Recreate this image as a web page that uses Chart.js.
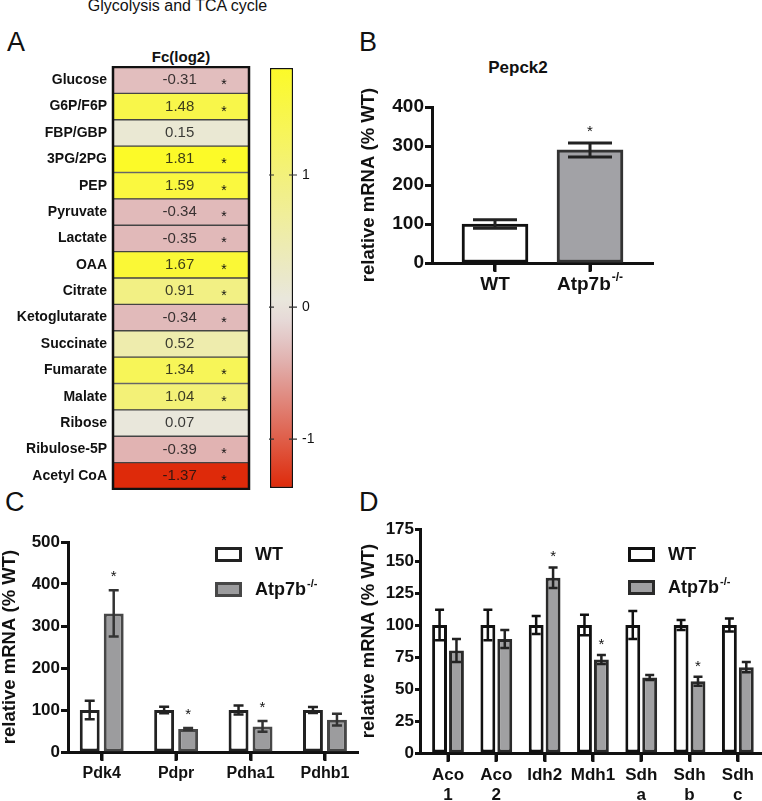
<!DOCTYPE html>
<html>
<head>
<meta charset="utf-8">
<script src="https://cdn.jsdelivr.net/npm/chart.js@4.4.0/dist/chart.umd.min.js"></script>
<style>
  body { margin: 0; background: #fff; width: 762px; height: 801px; position: relative; overflow: hidden;
         font-family: "Liberation Sans", Arial, Helvetica, sans-serif; color: #111; }
  canvas, .txt { position: absolute; }
  .letter { font-size: 27px; line-height: 1; }
</style>
</head>
<body>
<div class="txt" style="left:0;width:355px;top:-2px;text-align:center;font-size:16px;line-height:1;">Glycolysis and TCA cycle</div>
<div class="txt letter" style="left:7px;top:29px;">A</div>
<div class="txt letter" style="left:359px;top:29px;">B</div>
<div class="txt letter" style="left:5px;top:489px;">C</div>
<div class="txt letter" style="left:359px;top:489px;">D</div>
<div class="txt" style="left:113px;width:136px;top:49px;text-align:center;font-size:15px;font-weight:bold;line-height:1;">Fc(log2)</div>
<div class="txt" style="left:458px;width:120px;top:59px;text-align:center;font-size:17px;font-weight:bold;line-height:1;">Pepck2</div>

<canvas id="heat" width="251" height="424" style="left:0;top:66px"></canvas>
<canvas id="scaleBar" width="60" height="436" style="left:262px;top:60px"></canvas>
<canvas id="pepck" width="300" height="240" style="left:356px;top:55px"></canvas>
<canvas id="pdh" width="366" height="258" style="left:-3px;top:530px"></canvas>
<canvas id="tca" width="406" height="284" style="left:356px;top:517px"></canvas>

<script>
// ---- data ----
const metabolites = ["Glucose", "G6P/F6P", "FBP/GBP", "3PG/2PG", "PEP", "Pyruvate", "Lactate", "OAA",
  "Citrate", "Ketoglutarate", "Succinate", "Fumarate", "Malate", "Ribose", "Ribulose-5P", "Acetyl CoA"];
const fcLog2 = [-0.31, 1.48, 0.15, 1.81, 1.59, -0.34, -0.35, 1.67, 0.91, -0.34, 0.52, 1.34, 1.04, 0.07, -0.39, -1.37];
const fcSignificant = [true, true, false, true, true, true, true, true, true, true, false, true, true, false, true, true];
const colorbarTicks = [-1, 0, 1];

const pepckGroups = ["WT", "Atp7b-/-"];
const pepckMean = [100, 290];
const pepckSem = [11, 18];
const pepckSig = [false, true];

const groupNames = ["WT", "Atp7b-/-"];

const pdhGenes = ["Pdk4", "Pdpr", "Pdha1", "Pdhb1"];
const pdhWT = [100, 100, 100, 100];
const pdhWTErr = [22, 8, 11, 7];
const pdhKO = [330, 55, 61, 77];
const pdhKOErr = [55, 2, 13, 14];
const pdhSig = [true, true, true, false];

const tcaGenes = [["Aco", "1"], ["Aco", "2"], ["Idh2"], ["Mdh1"], ["Sdh", "a"], ["Sdh", "b"], ["Sdh", "c"]];
const tcaWT = [100, 100, 100, 100, 100, 100, 100];
const tcaWTErr = [12, 12, 7, 8, 11, 4, 5];
const tcaKO = [80, 89, 137, 73, 59, 56, 67];
const tcaKOErr = [9, 7, 8, 3.5, 2, 3.5, 4];
const tcaSig = [false, false, true, true, false, true, false];

// ---- styles ----
const FONT = '"Liberation Sans", Arial, Helvetica, sans-serif';
Chart.defaults.font.family = FONT;
Chart.defaults.color = "#111";
Chart.defaults.animation = false;
Chart.defaults.plugins.legend.display = false;
Chart.defaults.plugins.tooltip.enabled = false;

// colour ramp: [position, r, g, b], grey in the middle
const negRamp = [[0, 232, 230, 226], [0.25, 225, 186, 186], [1, 222, 42, 10]];
const posRamp = [[0, 232, 230, 226], [1, 252, 250, 40]];
const fcMin = Math.min(...fcLog2);
const fcMax = Math.max(...fcLog2);

function fcColor(v) {
  const ramp = v < 0 ? negRamp : posRamp;
  const t = v < 0 ? v / fcMin : v / fcMax;
  let k = 1;
  while (k < ramp.length - 1 && t > ramp[k][0]) k++;
  const a = ramp[k - 1], b = ramp[k];
  const f = (t - a[0]) / (b[0] - a[0]);
  const rgb = [1, 2, 3].map((j) => Math.round(a[j] + (b[j] - a[j]) * f));
  return "rgb(" + rgb.join(",") + ")";
}

function noPad(s) { s.paddingTop = 0; s.paddingBottom = 0; }

// label with "-/-" drawn as superscript
function drawSupLabel(ctx, text, x, y, size, align) {
  const m = text.match(/^(.*?)(-\/-)$/);
  const main = m ? m[1] : text;
  const sup = m ? m[2] : "";
  const supSize = Math.round(size * 0.62);
  ctx.font = "bold " + size + "px " + FONT;
  const w1 = ctx.measureText(main).width;
  ctx.font = "bold " + supSize + "px " + FONT;
  const w2 = sup ? ctx.measureText(sup).width + 1 : 0;
  const x0 = align === "center" ? x - (w1 + w2) / 2 : x;
  ctx.textAlign = "left";
  ctx.textBaseline = "middle";
  ctx.fillStyle = "#111";
  ctx.font = "bold " + size + "px " + FONT;
  ctx.fillText(main, x0, y);
  if (sup) {
    ctx.font = "bold " + supSize + "px " + FONT;
    ctx.fillText(sup, x0 + w1 + 1, y - size * 0.36);
  }
}

// error bars + significance stars
const errorBars = {
  id: "errorBars",
  afterDatasetsDraw(chart, args, opts) {
    const { ctx } = chart;
    const yScale = chart.scales.y;
    ctx.save();
    chart.data.datasets.forEach((ds, di) => {
      if (!ds.errors) return;
      const meta = chart.getDatasetMeta(di);
      meta.data.forEach((bar, i) => {
        const raw = ds.data[i];
        const v = typeof raw === "object" ? raw.y : raw;
        const top = yScale.getPixelForValue(v + ds.errors[i]);
        const bot = yScale.getPixelForValue(v - ds.errors[i]);
        ctx.strokeStyle = ds.errorColor;
        ctx.lineWidth = opts.width;
        ctx.beginPath();
        ctx.moveTo(bar.x, top);
        ctx.lineTo(bar.x, bot);
        ctx.moveTo(bar.x - opts.cap, top);
        ctx.lineTo(bar.x + opts.cap, top);
        ctx.moveTo(bar.x - opts.cap, bot);
        ctx.lineTo(bar.x + opts.cap, bot);
        ctx.stroke();
        if (ds.sig && ds.sig[i]) {
          ctx.fillStyle = "#111";
          ctx.font = opts.starSize + "px " + FONT;
          ctx.textAlign = "center";
          ctx.textBaseline = "alphabetic";
          ctx.fillText("*", bar.x, top - opts.starGap);
        }
      });
    });
    ctx.restore();
  }
};

// tick marks under the categories
const xTickMarks = {
  id: "xTickMarks",
  afterDraw(chart) {
    const { ctx, chartArea, scales } = chart;
    ctx.save();
    ctx.strokeStyle = "#111";
    ctx.lineWidth = 3;
    scales.x.ticks.forEach((t) => {
      const x = Math.round(scales.x.getPixelForValue(t.value));
      ctx.beginPath();
      ctx.moveTo(x, chartArea.bottom);
      ctx.lineTo(x, chartArea.bottom + 9);
      ctx.stroke();
    });
    ctx.restore();
  }
};

// legend boxes
const boxLegend = {
  id: "boxLegend",
  afterDraw(chart, args, opts) {
    const { ctx, chartArea } = chart;
    ctx.save();
    chart.data.datasets.forEach((ds, i) => {
      const x = chartArea.left + opts.x;
      const y = chartArea.top + opts.y + i * opts.gap;
      ctx.fillStyle = ds.backgroundColor;
      ctx.strokeStyle = ds.borderColor;
      ctx.lineWidth = 3;
      ctx.fillRect(x, y, 27, 15);
      ctx.strokeRect(x + 1.5, y + 1.5, 24, 12);
      drawSupLabel(ctx, ds.label, x + 40, y + 8, 18, "left");
    });
    ctx.restore();
  }
};

function valueAxis(max, step, width, tickLen, size) {
  return {
    min: 0, max,
    ticks: { stepSize: step, font: { size, weight: "bold" }, color: "#111", padding: 1 },
    grid: { drawOnChartArea: false, drawTicks: true, tickLength: tickLen, tickWidth: 3, tickColor: "#111", color: "#111" },
    border: { display: true, width: 3, color: "#111" },
    title: { display: true, text: "relative mRNA (% WT)", font: { size: 18.5, weight: "bold" }, color: "#111", padding: { top: 2, bottom: 0 } },
    afterFit: (s) => { s.width = width; noPad(s); }
  };
}

function indexAxis(n, min, max, height, labels, size, showLabels) {
  return {
    type: "linear", min, max, offset: false,
    afterBuildTicks: (s) => { s.ticks = Array.from({ length: n }, (_, i) => ({ value: i + 1 })); },
    ticks: { display: showLabels, autoSkip: false, maxRotation: 0, font: { size, weight: "bold" }, color: "#111", padding: 4,
             callback: (v) => labels[v - 1] },
    grid: { offset: false, drawOnChartArea: false, drawTicks: true, tickLength: 8, tickWidth: 3, tickColor: "#111", color: "#111" },
    border: { display: true, width: 3, color: "#111" },
    afterFit: (s) => { s.height = height; }
  };
}

// ---- A: heat map ----
const heatText = {
  id: "heatText",
  afterDatasetsDraw(chart) {
    const { ctx, chartArea: a } = chart;
    const meta = chart.getDatasetMeta(0);
    ctx.save();
    ctx.textAlign = "center";
    meta.data.forEach((cell, i) => {
      ctx.fillStyle = "rgba(17,17,17,0.82)";
      ctx.font = "15px " + FONT;
      ctx.textBaseline = "middle";
      ctx.fillText(fcLog2[i].toFixed(2), a.left + a.width * 0.49, cell.y);
      if (fcSignificant[i]) {
        ctx.fillStyle = "#111";
        ctx.font = "14px " + FONT;
        ctx.textBaseline = "alphabetic";
        ctx.fillText("*", a.left + a.width * 0.816, cell.y + 9);
      }
    });
    ctx.lineWidth = 2.5;
    ctx.strokeStyle = "#111";
    ctx.strokeRect(a.left, a.top, a.width, a.height);
    ctx.restore();
  }
};

new Chart(document.getElementById("heat"), {
  type: "bar",
  data: {
    labels: metabolites,
    datasets: [{
      data: metabolites.map(() => 1),
      backgroundColor: fcLog2.map(fcColor),
      borderColor: "#444",
      borderWidth: 1,
      borderSkipped: false,
      barPercentage: 1,
      categoryPercentage: 1
    }]
  },
  options: {
    responsive: false,
    indexAxis: "y",
    layout: { padding: { top: 1, right: 2, bottom: 1 } },
    scales: {
      x: { display: false, min: 0, max: 1 },
      y: {
        grid: { display: false, drawTicks: false },
        border: { display: false },
        ticks: { font: { size: 14, weight: "bold" }, color: "#111", padding: 6 },
        afterFit: (s) => { s.width = 113; noPad(s); }
      }
    }
  },
  plugins: [heatText]
});

// ---- A: colour bar ----
const barTicks = {
  id: "barTicks",
  afterDraw(chart) {
    const { ctx, chartArea: a, scales } = chart;
    ctx.save();
    ctx.strokeStyle = "#333";
    ctx.lineWidth = 1.2;
    colorbarTicks.forEach((v) => {
      const y = scales.y.getPixelForValue(v);
      ctx.beginPath();
      ctx.moveTo(a.left - 1, y); ctx.lineTo(a.left + 4, y);
      ctx.moveTo(a.right - 4, y); ctx.lineTo(a.right + 4, y);
      ctx.stroke();
    });
    ctx.restore();
  }
};

new Chart(document.getElementById("scaleBar"), {
  type: "bar",
  data: {
    labels: [""],
    datasets: [{
      data: [[fcMin, fcMax]],
      backgroundColor: (c) => {
        const { chart } = c;
        if (!chart.chartArea) return fcColor(0);
        const y = chart.scales.y;
        const g = chart.ctx.createLinearGradient(0, y.getPixelForValue(fcMin), 0, y.getPixelForValue(fcMax));
        for (let i = 0; i <= 20; i++) g.addColorStop(i / 20, fcColor(fcMin + (fcMax - fcMin) * i / 20));
        return g;
      },
      borderColor: "#111",
      borderWidth: 1.5,
      borderSkipped: false,
      barPercentage: 1,
      categoryPercentage: 1
    }]
  },
  options: {
    responsive: false,
    layout: { padding: { left: 8, top: 8, bottom: 8 } },
    scales: {
      x: { display: false },
      y: {
        position: "right", min: fcMin, max: fcMax,
        afterBuildTicks: (s) => { s.ticks = colorbarTicks.map((v) => ({ value: v })); },
        grid: { display: false, drawTicks: false },
        border: { display: false },
        ticks: { font: { size: 14 }, color: "#111", padding: 9 },
        afterFit: (s) => { s.width = 29; noPad(s); }
      }
    }
  },
  plugins: [barTicks]
});

// ---- B: Pepck2 ----
const supTicks = {
  id: "supTicks",
  afterDraw(chart) {
    const { ctx, chartArea, scales } = chart;
    ctx.save();
    pepckGroups.forEach((g, i) => {
      drawSupLabel(ctx, g, scales.x.getPixelForValue(i + 1), chartArea.bottom + 22, 19, "center");
    });
    ctx.restore();
  }
};

new Chart(document.getElementById("pepck"), {
  type: "bar",
  data: {
    datasets: [{
      data: pepckGroups.map((g, i) => ({ x: i + 1, y: pepckMean[i] })),
      errors: pepckSem,
      sig: pepckSig,
      errorColor: "#222",
      backgroundColor: ["#ffffff", "#a2a2a6"],
      borderColor: ["#111", "#333"],
      borderWidth: 3,
      borderSkipped: false,
      barThickness: 66
    }]
  },
  options: {
    responsive: false,
    layout: { padding: { top: 52, right: 3 } },
    plugins: {
      errorBars: { width: 3, cap: 22, starGap: 7, starSize: 15 }
    },
    scales: {
      x: indexAxis(2, 0.337, 2.663, 32, pepckGroups, 19, false),
      y: valueAxis(400, 100, 76, 7, 19)
    }
  },
  plugins: [errorBars, xTickMarks, supTicks]
});

// ---- C: PDH genes ----
new Chart(document.getElementById("pdh"), {
  type: "bar",
  data: {
    datasets: [
      { label: groupNames[0], data: pdhWT.map((v, i) => ({ x: i + 1, y: v })), errors: pdhWTErr, errorColor: "#222",
        backgroundColor: "#ffffff", borderColor: "#222" },
      { label: groupNames[1], data: pdhKO.map((v, i) => ({ x: i + 1, y: v })), errors: pdhKOErr, sig: pdhSig, errorColor: "#333",
        backgroundColor: "#9c9c9e", borderColor: "#474747" }
    ]
  },
  options: {
    responsive: false,
    layout: { padding: { top: 12, right: 5 } },
    datasets: { bar: { borderWidth: 3, borderSkipped: false, categoryPercentage: 0.645, barPercentage: 0.83 } },
    plugins: {
      errorBars: { width: 2.5, cap: 5, starGap: 9, starSize: 15 },
      boxLegend: { x: 147, y: 5, gap: 35 }
    },
    scales: {
      x: indexAxis(4, 0.547, 4.444, 36, pdhGenes, 16, true),
      y: valueAxis(500, 100, 71, 7, 17)
    }
  },
  plugins: [errorBars, xTickMarks, boxLegend]
});

// ---- D: TCA genes ----
new Chart(document.getElementById("tca"), {
  type: "bar",
  data: {
    datasets: [
      { label: groupNames[0], data: tcaWT.map((v, i) => ({ x: i + 1, y: v })), errors: tcaWTErr, errorColor: "#111",
        backgroundColor: "#ffffff", borderColor: "#111" },
      { label: groupNames[1], data: tcaKO.map((v, i) => ({ x: i + 1, y: v })), errors: tcaKOErr, sig: tcaSig, errorColor: "#222",
        backgroundColor: "#a0a0a2", borderColor: "#2a2a2a" }
    ]
  },
  options: {
    responsive: false,
    layout: { padding: { top: 12, right: 0 } },
    datasets: { bar: { borderWidth: 3, borderSkipped: false, categoryPercentage: 0.7, barPercentage: 0.88 } },
    plugins: {
      errorBars: { width: 2.5, cap: 4.5, starGap: 6, starSize: 15 },
      boxLegend: { x: 208, y: 18, gap: 33 }
    },
    scales: {
      x: indexAxis(7, 0.42, 7.5, 48, tcaGenes, 17, true),
      y: valueAxis(175, 25, 64, 5, 17)
    }
  },
  plugins: [errorBars, xTickMarks, boxLegend]
});
</script>
</body>
</html>
